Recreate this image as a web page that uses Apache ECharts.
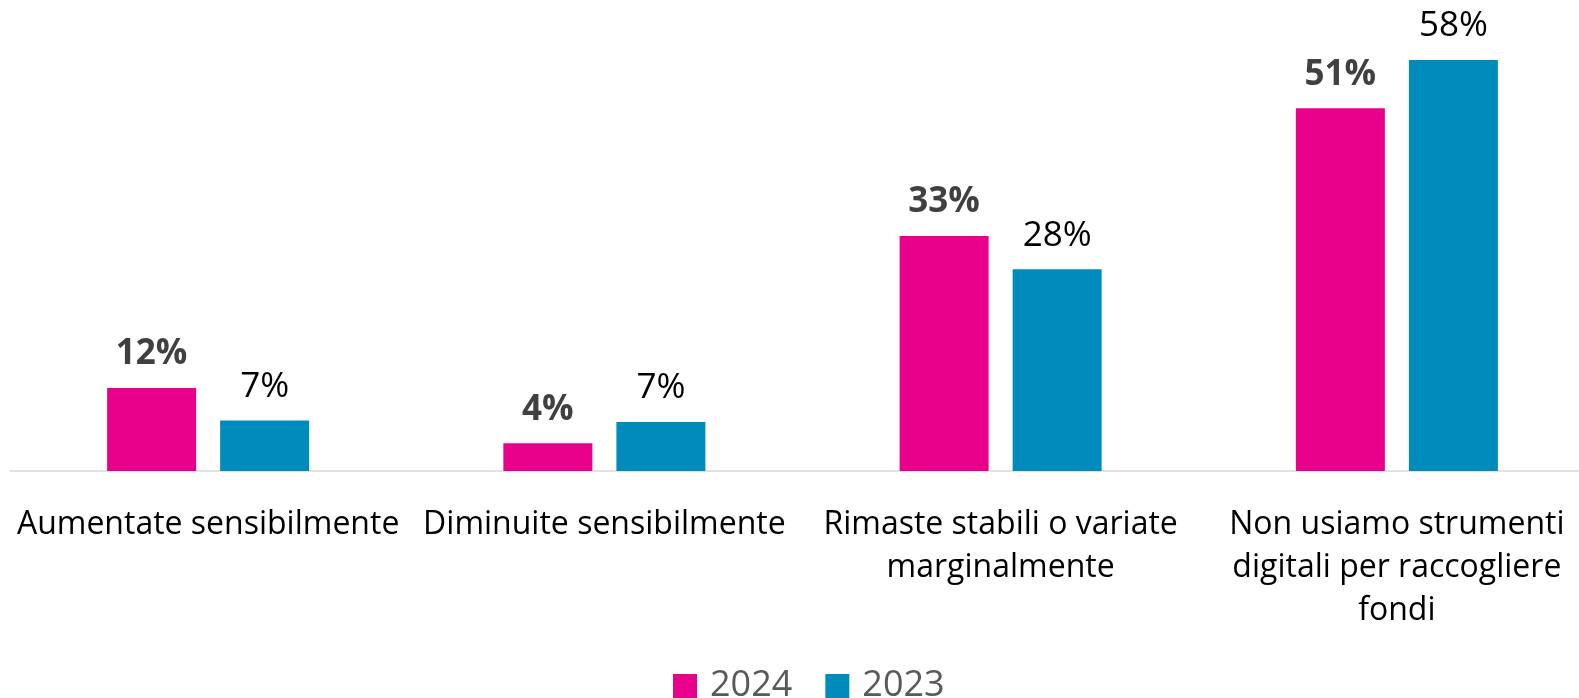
<!DOCTYPE html>
<html>
<head>
<meta charset="utf-8">
<script src="https://cdn.jsdelivr.net/npm/echarts@6/dist/echarts.min.js"></script>
<style>
  html, body { margin: 0; padding: 0; background: #fff; overflow: hidden; }
  /* il grafico è più largo della finestra: l'asse prosegue oltre il bordo destro */
  #chart { width: 1595px; height: 698px; }
</style>
</head>
<body>
<div id="chart"></div>
<script>
// categorie (a capo come nel grafico originale)
const categories = [
  'Aumentate sensibilmente',
  'Diminuite sensibilmente',
  'Rimaste stabili o variate\nmarginalmente',
  'Non usiamo strumenti\ndigitali per raccogliere\nfondi'
];

// valori (%)
const values2024 = [11.7, 3.9, 33.1, 51.1];
const values2023 = [7.1, 6.9, 28.4, 57.9];

const seriesNames = ['2024', '2023'];
const colors = ['#e8008a', '#008bbd'];

const FONT = '"Open Sans", "Noto Sans", sans-serif';

const chart = echarts.init(document.getElementById('chart'), null, { renderer: 'canvas' });

// etichetta percentuale arrotondata
const pct = (p) => Math.round(p.value) + '%';

const option = {
  animation: false,
  color: colors,
  grid: { left: 10, right: 0, top: 45, bottom: 227, containLabel: false },
  legend: {
    data: seriesNames,
    top: 668,
    left: 673,
    padding: 0,
    itemWidth: 24,
    itemHeight: 24,
    itemGap: 33,
    icon: 'rect',
    textStyle: { fontFamily: FONT, fontSize: 36, color: '#595959', padding: [0, 0, 0, 8] }
  },
  xAxis: {
    type: 'category',
    data: categories,
    axisLine: { show: true, lineStyle: { color: '#d9d9d9', width: 1.5 } },
    axisTick: { show: false },
    axisLabel: {
      interval: 0,
      margin: 32,
      fontFamily: FONT,
      fontSize: 32,
      lineHeight: 43,
      color: '#000'
    }
  },
  yAxis: {
    type: 'value',
    min: 0,
    max: 60,
    show: false,
    splitLine: { show: false }
  },
  series: [
    {
      name: seriesNames[0],
      type: 'bar',
      data: values2024,
      barWidth: 89,
      barGap: '27%',
      label: {
        show: true,
        position: 'top',
        distance: 16,
        formatter: pct,
        fontFamily: FONT,
        fontSize: 35,
        fontWeight: 'bold',
        color: '#404040'
      }
    },
    {
      name: seriesNames[1],
      type: 'bar',
      data: values2023,
      barWidth: 89,
      label: {
        show: true,
        position: 'top',
        distance: 16,
        formatter: pct,
        fontFamily: FONT,
        fontSize: 35,
        color: '#000'
      }
    }
  ]
};

chart.setOption(option);
</script>
</body>
</html>
